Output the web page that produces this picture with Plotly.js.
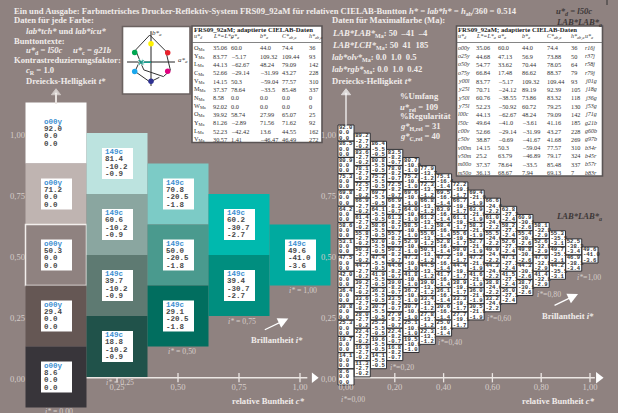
<!DOCTYPE html>
<html><head><meta charset="utf-8">
<script src="https://cdn.plot.ly/plotly-3.0.1.min.js"></script>
<style>html,body{margin:0;padding:0;background:#8f8280}#c{width:618px;height:413px}</style>
</head><body><div id="c"></div>
<script>
// ---- left chart data (5 steps) ----
const leftChroma = [0, 0.25, 0.5, 0.75, 1];
const leftHead = ["o00y", "149c", "149c", "149c", "149c"];
const leftL = [[92.0,71.2,50.3,29.4,8.6],[81.4,60.6,39.7,18.8],[70.8,50.0,29.1],[60.2,39.4],[49.6]];
const leftA = ["0.0","-10.2","-20.5","-30.7","-41.0"];
const leftB = ["0.0","-0.9","-1.8","-2.7","-3.6"];
const leftColors = [["#ffffff","#bfb4b1","#8f8280","#655754","#38353a"],["#bce3df","#8aa6a0","#5e7a72","#20524a"],["#7ccbc6","#4a9a8e","#016e5f"],["#00b9ae","#008e7f"],["#00aa9f"]];
// ---- right chart data (16 steps) ----
const rightL = [
[92.0,86.5,80.9,75.3,69.8,64.2,58.6,53.1,47.5,42.0,36.4,30.8,25.3,19.7,14.1,8.6],
[89.2,83.6,78.1,72.5,66.9,61.4,55.8,50.3,44.7,39.2,33.6,28.0,22.4,16.9,11.3],
[86.4,80.8,75.2,69.7,64.1,58.6,53.0,47.4,41.9,36.3,30.7,25.2,19.6,14.1],
[83.5,78.0,72.5,66.9,61.3,55.7,50.3,44.6,39.0,33.5,27.9,22.4,16.8],
[80.7,75.2,69.6,64.0,58.5,52.9,47.3,41.8,36.2,30.7,25.1,19.5],
[77.9,72.3,66.8,61.2,55.6,50.1,44.5,39.0,33.4,27.8,22.3],
[75.1,69.5,63.9,58.4,52.8,47.2,41.7,36.1,30.6,25.0],
[72.2,66.7,61.1,55.6,50.0,44.4,38.9,33.3,27.7],
[69.4,63.9,58.3,52.7,47.2,41.6,36.0,30.5],
[66.6,61.0,55.5,49.9,44.3,38.8,33.2],
[63.8,58.2,52.6,47.1,41.5,36.0],
[60.9,55.4,49.8,44.3,38.7],
[58.1,52.6,47.0,41.4],
[55.3,49.7,44.2],
[52.5,46.9],
[49.6]];
const rightA = ["0.0","-2.7","-5.5","-8.2","-10.9","-13.7","-16.4","-19.1","-21.9","-24.6","-27.3","-30.1","-32.8","-35.5","-38.3","-41.0"];
const rightB = ["0.0","-0.2","-0.5","-0.7","-1.0","-1.2","-1.4","-1.7","-1.9","-2.2","-2.4","-2.6","-2.9","-3.1","-3.4","-3.6"];
// ---- axis ticks ----
const yTicks = [0,0.25,0.5,0.75,1];
const yTickText = ["0,00","0,25","0,50","0,75","1,00"];
const leftXTicks = [0.25,0.5,0.75,1];
const leftXText = ["0,25","0,50","0,75","1,00"];
const rightXTicks = [0,0.2,0.4,0.6,0.8,1];
const rightXText = ["0,00","0,20","0,40","0,60","0,80","1,00"];
// ---- a*b* diagram ----
const gamutA = [60,-5.17,-62.67,-29.14,50.3,78.64,60];
const gamutB = [44,109.32,48.24,-31.99,-59.04,-33.5,44];
const gamut2A = [-47,-65,-4,34];
const gamut2B = [0,-38,-81,-62];
const dotA = [0,67.6,67.6,0,-66,-66];
const dotB = [74,37.6,-37.6,-78,-38,38];
const dotColors = ["#fff200","#e8212b","#e0007f","#2e3192","#1aa7ec","#00a651"];
// ---- tables ----
const table1Head = "FRS09_92aM; adaptierte CIELAB-Daten";
const table1Cols = ["<i>u*<sub>d</sub></i>","<i>L*=L*<sub>a</sub></i>","<i>a*<sub>a</sub></i>","<i>b*<sub>a</sub></i>","<i>C*<sub>ab,a</sub></i>","<i>h*<sub>ab,a</sub></i>"];
const table1Name = ["O","Y","L","C","V","M","N","W","O","Y","L","V"];
const table1L = ["35.06","83.77","44.13","52.66","14.15","37.37","8.58","92.02","39.92","81.26","52.23","30.57"];
const table1A = ["60.0","–5.17","–62.67","–29.14","50.3","78.64","0.0","0.0","58.74","–2.89","–42.42","1.41"];
const table1B = ["44.0","109.32","48.24","–31.99","–59.04","–33.5","0.0","0.0","27.99","71.56","13.6","–46.47"];
const table1C = ["74.4","109.44","79.09","43.27","77.57","85.48","0.0","0.0","65.07","71.62","44.55","46.49"];
const table1H = ["36","93","142","228","310","337","0","0","25","92","162","272"];
const table2Name = ["o00y","o25y","o50y","o75y","y00l","y25l","y50l","y75l","l00c","l50c","c00v","c50v","v00m","v50m","m00o","m50o"];
const table2L = ["35.06","44.68","54.77","66.84","83.77","70.71","60.76","52.23","44.13","49.64","52.66","38.87","14.15","25.2","37.37","36.13"];
const table2A = ["60.0","47.13","33.62","17.48","–5.17","–24.12","–38.55","–50.92","–62.67","–41.0","–29.14","–0.69","50.3","63.79","78.64","68.67"];
const table2B = ["44.0","56.9","70.44","86.62","109.32","89.19","73.86","60.72","48.24","–3.61","–31.99","–41.67","–59.04","–46.89","–33.5","7.94"];
const table2C = ["74.4","73.88","78.05","88.37","109.44","92.39","83.32","79.25","79.09","41.16","43.27","41.68","77.57","79.17","85.48","69.13"];
const table2H = ["36","50","64","79","93","105","118","130","142","185","228","269","310","324","337","7"];
const table2U = ["r16j","r37j","r58j","r79j","j01g","j18g","j36g","j53g","j71g","g21b","g60b","g97b","b34r","b45r","b57r","b83r"];
// ---- free text ----
const titleText = "<b>Ein und Ausgabe: Farbmetrisches Drucker-Reflektiv-System FRS09_92aM für relativen CIELAB-Buntton <i>h* = lab*h* = h</i><sub>ab</sub>/360 = 0.514</b>";

const W=618,H=413,U=244,X0L=56,X0R=346,Y0=377;
const px=x=>x/W, py=y=>1-y/H;
const BG="#8f8280", SOFT="#d6cdca", NOTE="#f1ecea", DARK="#3d3838";
const T=[]; const ann=[]; const shapes=[];
function note(x,y,text,size,color,family,anchor){
  ann.push({xref:"paper",yref:"paper",x:px(x),y:py(y),text:text,showarrow:false,xanchor:anchor||"left",yanchor:"middle",
    font:{family:family||"Liberation Serif",size:size||8.6,color:color||NOTE},borderpad:0,borderwidth:0,align:"left"});
}
// left grid
leftChroma.forEach((c,j)=>{
  const t=leftL[j].map((_,k)=>1-c/2-k*0.25);
  T.push({type:"bar",x:t.map(()=>c),base:t.map(v=>v-0.125),y:t.map(()=>0.25),width:t.map(()=>0.25),xaxis:"x",yaxis:"y",
    marker:{color:leftColors[j],line:{color:t.map((_,k)=>(j==0&&k==2)?"#f2eeec":"rgba(0,0,0,0)"),width:t.map((_,k)=>(j==0&&k==2)?1.5:0)}}});
});
leftChroma.forEach((c,j)=>{
  const t=leftL[j].map((_,k)=>1-c/2-k*0.25);
  T.push({type:"scatter",mode:"markers",x:t.map(()=>c+0.5/U),y:t,xaxis:"x",yaxis:"y",cliponaxis:false,
    marker:{symbol:"square",size:31,color:"#fff",line:{width:0}}});
  const lines=[t.map(()=>leftHead[j]),leftL[j].map(v=>v.toFixed(1)),t.map(()=>leftA[j]),t.map(()=>leftB[j])];
  const off=[11,4,-3.5,-11], col=["#3d8fd1","#484848","#484848","#484848"];
  lines.forEach((tx,i)=>T.push({type:"scatter",mode:"text",x:t.map(()=>c-12/U),y:t.map(v=>v+off[i]/U),text:tx,textposition:"middle right",
    xaxis:"x",yaxis:"y",cliponaxis:false,textfont:{family:"Liberation Mono",size:7.5,color:col[i],weight:"bold"}}));
});
// right grid: each column is painted over the one before it
rightL.forEach((col,j)=>{
  const c=j/15; const t=col.map((_,k)=>1-c/2-k/15);
  T.push({type:"scatter",mode:"markers",x:t.map(()=>c),y:t,xaxis:"x2",yaxis:"y2",cliponaxis:false,
    marker:{symbol:"square",size:16,color:"#fff",line:{color:"#2f2f33",width:1}}});
  const lines=[col.map(v=>v.toFixed(1)),t.map(()=>rightA[j]),t.map(()=>rightB[j])];
  const off=[5.2,0,-5.2];
  lines.forEach((tx,i)=>T.push({type:"scatter",mode:"text",x:t.map(()=>c-7/U),y:t.map(v=>v+off[i]/U),text:tx,textposition:"middle right",
    xaxis:"x2",yaxis:"y2",cliponaxis:false,textfont:{family:"Liberation Mono",size:5.6,color:"#333",weight:"bold"}}));
});
// a*b* diagram
T.push({type:"scatter",mode:"lines",x:[-97,97],y:[0,0],xaxis:"x3",yaxis:"y3",line:{color:"#222",width:1}});
T.push({type:"scatter",mode:"lines",x:[0,0],y:[-97,125],xaxis:"x3",yaxis:"y3",line:{color:"#222",width:1}});
T.push({type:"scatter",mode:"lines",x:gamutA,y:gamutB,xaxis:"x3",yaxis:"y3",line:{color:"#333",width:1}});
T.push({type:"scatter",mode:"lines",x:gamut2A,y:gamut2B,xaxis:"x3",yaxis:"y3",line:{color:"#333",width:1}});
T.push({type:"scatter",mode:"markers",x:dotA,y:dotB,xaxis:"x3",yaxis:"y3",marker:{color:dotColors,size:5.5}});
T.push({type:"scatter",mode:"lines+markers",x:[-40,0],y:[-1,-1],xaxis:"x3",yaxis:"y3",line:{color:"#16a090",width:1.5},marker:{symbol:["x","circle"],color:"#16a090",size:[6,0]}});
// axis arrows
T.push({type:"scatter",mode:"markers",x:[1.058],y:[-0.003],xaxis:"x",yaxis:"y",cliponaxis:false,marker:{symbol:"triangle-right",size:9,color:"#fff"}});
T.push({type:"scatter",mode:"markers",x:[1.035],y:[-0.003],xaxis:"x2",yaxis:"y2",cliponaxis:false,marker:{symbol:"triangle-right",size:10,color:"#fff"}});
T.push({type:"scatter",mode:"lines+markers",x:[0,0],y:[1.12,1.165],xaxis:"x",yaxis:"y",cliponaxis:false,line:{color:"#e8e2df",width:2},marker:{symbol:"triangle-up",size:[0,8],color:"#f5f2f0"}});
T.push({type:"scatter",mode:"lines+markers",x:[0,0],y:[1.03,1.165],xaxis:"x2",yaxis:"y2",cliponaxis:false,line:{color:"#fff",width:1.2},marker:{symbol:"triangle-up",size:[0,8],color:"#fff"}});

// axis lines + crossing ticks (below the cells)
const ax={color:"#ece7e4",width:1.3};
function axisLine(xr,yr,ticks,end){
  shapes.push({type:"line",xref:xr,yref:yr,x0:0,x1:end,y0:-0.003,y1:-0.003,line:ax,layer:"below"});
  ticks.forEach(v=>shapes.push({type:"line",xref:xr,yref:yr,x0:v,x1:v,y0:-0.022,y1:0.016,line:ax,layer:"below"}));
}
axisLine("x","y",leftXTicks,1.03);
axisLine("x2","y2",rightXTicks.slice(1),1.02);
// diagram box, tables
function box(x0,y0,x1,y1,w,c){shapes.push({type:"rect",xref:"paper",yref:"paper",x0:px(x0),x1:px(x1),y0:py(y1),y1:py(y0),fillcolor:"#fff",line:{color:c||"#6b6260",width:w},layer:"below"});}
box(122.5,26.5,190,94,1.6);
box(192,26,322,142.5,1.6,"#5a5454");
box(456.5,26,602.5,176,1.6,"#5a5454");
[[192,322],[456.5,602.5]].forEach(r=>shapes.push({type:"line",xref:"paper",yref:"paper",x0:px(r[0]),x1:px(r[1]),y0:py(42.5),y1:py(42.5),line:{color:"#666",width:0.8},layer:"below"}));
shapes.push({type:"line",xref:"paper",yref:"paper",x0:px(607),x1:px(607),y0:py(0),y1:py(5),line:{color:"#333",width:1}});

// texts
note(14,11,titleText,8.65);
note(14,20,"<b>Daten für jede Farbe:</b>");
note(26,31,"<b><i>lab*tch*</i> und <i>lab*icu*</i></b>");
note(14,41,"<b>Bunttontexte:</b>");
note(26,50,"<b><i>u*</i><sub>d</sub> = <i>l50c</i></b>");
note(73,50,"<b><i>u*</i><sub>c</sub> = <i>g21b</i></b>");
note(14,59.5,"<b>Kontrastreduzierungsfaktor:</b>");
note(26,70,"<b><i>c</i><sub>R</sub> = 1.0</b>");
note(26,81,"<b>Dreiecks-Helligkeit <i>t*</i></b>");
note(332,20,"<b>Daten für Maximalfarbe (Ma):</b>");
note(332,34,"<b><i>LAB*LAB*</i><sub>Ma</sub>: 50  –41  –4</b>");
note(332,45.5,"<b><i>LAB*LCH*</i><sub>Ma</sub>: 50  41  185</b>");
note(332,57.5,"<b><i>lab*olv*</i><sub>Ma</sub>: 0.0  1.0  0.5</b>");
note(332,69.5,"<b><i>lab*rgb*</i><sub>Ma</sub>: 0.0  1.0  0.42</b>");
note(332,81,"<b>Dreiecks-Helligkeit <i>t*</i></b>");
note(400,96,"<b>%Umfang</b>");
note(400,107,"<b><i>u*</i><sub>rel</sub> = 109</b>");
note(400,116,"<b>%Regularität</b>");
note(400,126,"<b><i>g*</i><sub>H,rel</sub> = 31</b>");
note(400,136,"<b><i>g*</i><sub>C,rel</sub> = 40</b>");
note(556,11.5,"<b><i>u*<sub>d</sub> = l50c</i></b>",8.6,DARK);
note(556,22,"<b><i>LAB*LAB*<sub>a</sub></i></b>",8.6,DARK);
note(556,216.5,"<b><i>LAB*LAB*<sub>a</sub></i></b>",8.6,DARK);
[["<i>i*</i> = 0,00",59,411.5],["<i>i*</i> = 0,25",120,382],["<i>i*</i> = 0,50",181.5,351.5],["<i>i*</i> = 0,75",242,321.5],["<i>i*</i> = 1,00",303,290.5]].forEach(a=>note(a[1],a[2],a[0],7.8,SOFT,null,"center"));
[["<i>i*</i>=0,00",352.5,399],["<i>i*</i>=0,20",402,367],["<i>i*</i>=0,40",449.5,342],["<i>i*</i>=0,60",499,318],["<i>i*</i>=0,80",548.5,294],["<i>i*</i>=1,00",589,277]].forEach(a=>note(a[1],a[2],a[0],7.8,SOFT,null,"center"));
note(251,340,"<b>Brillantheit <i>i*</i></b>");
note(542,316,"<b>Brillantheit <i>i*</i></b>");
note(232,401,"<b>relative Buntheit <i>c*</i></b>");
note(522,401,"<b>relative Buntheit <i>c*</i></b>");
// arrows
[["x","y",0.952,0.24],["x2","y2",0.951,0.34]].forEach(a=>ann.push({xref:a[0],yref:a[1],x:a[2],y:a[3],text:"",showarrow:true,ax:-25,ay:12,arrowcolor:"#fff",arrowwidth:1.3,arrowhead:2,arrowsize:1.6}));
// diagram labels
note(151.5,33.5,"<i>b*<sub>a</sub></i>",7,"#333");
note(178,60,"<i>a*<sub>a</sub></i>",7,"#333");
// table 1
const TS=6.3,TC="#333";
note(194,30,"<b>"+table1Head+"</b>",6.7,"#222");
note(457.5,30,"<b>"+table1Head+"</b>",6.7,"#222");
const t1x=[194,212.5,230.5,260,281.5,309];
table1Cols.forEach((s,i)=>note(t1x[i],36.5,s,6,TC));
table1Name.forEach((n,r)=>{
  const y=47.7+r*8.33;
  note(t1x[0],y,n+"<sub>Ma</sub>",6.3,TC);
  [table1L,table1A,table1B,table1C,table1H].forEach((col,i)=>note(t1x[i+1],y,col[r],TS,TC));
});
// table 2
const t2x=[458,476,498,522,547,571,585];
table1Cols.concat(["<i>u*<sub>a</sub></i>"]).forEach((s,i)=>note(t2x[i],36.5,s,6,TC));
table2Name.forEach((n,r)=>{
  const y=47.7+r*8.33;
  note(t2x[0],y,"<i>"+n+"</i>",6,TC);
  [table2L,table2A,table2B,table2C,table2H].forEach((col,i)=>note(t2x[i+1],y,col[r],TS,TC));
  note(t2x[6],y,"<i>"+table2U[r]+"</i>",6,TC);
});

const tickFont={family:"Liberation Serif",size:8.6,color:SOFT};
const hid={showgrid:false,zeroline:false,showline:false,ticks:""};
const shiftY=yTicks.map(v=>v-2/U);
const layout={width:W,height:H,margin:{l:0,r:0,t:0,b:0},paper_bgcolor:BG,plot_bgcolor:"rgba(0,0,0,0)",showlegend:false,barmode:"overlay",hovermode:false,
  shapes:shapes,annotations:ann,
  xaxis:Object.assign({},hid,{domain:[0,335/W],range:[-X0L/U,(335-X0L)/U],anchor:"free",position:(H-Y0)/H,tickmode:"array",tickvals:leftXTicks,ticktext:leftXText,tickfont:tickFont,ticklabelstandoff:3}),
  yaxis:Object.assign({},hid,{domain:[0,1],range:[(Y0-H)/U,Y0/U],anchor:"free",position:25/W,tickmode:"array",tickvals:shiftY,ticktext:yTickText,tickfont:tickFont}),
  xaxis2:Object.assign({},hid,{domain:[335/W,1],range:[(335-X0R)/U,(W-X0R)/U],anchor:"free",position:(H-Y0)/H,tickmode:"array",tickvals:rightXTicks,ticktext:rightXText,tickfont:tickFont,ticklabelstandoff:3}),
  yaxis2:Object.assign({},hid,{domain:[0,1],range:[(Y0-H)/U,Y0/U],anchor:"free",position:336/W,tickmode:"array",tickvals:shiftY,ticktext:yTickText,tickfont:tickFont}),
  xaxis3:{domain:[122/W,190/W],range:[(122-151)/0.247,(190-151)/0.247],visible:false,anchor:"y3"},
  yaxis3:{domain:[1-94/H,1-26/H],range:[(62-94)/0.247,(62-26)/0.247],visible:false,anchor:"x3"}
};
Plotly.newPlot("c",T,layout,{staticPlot:true,displayModeBar:false});
</script></body></html>
